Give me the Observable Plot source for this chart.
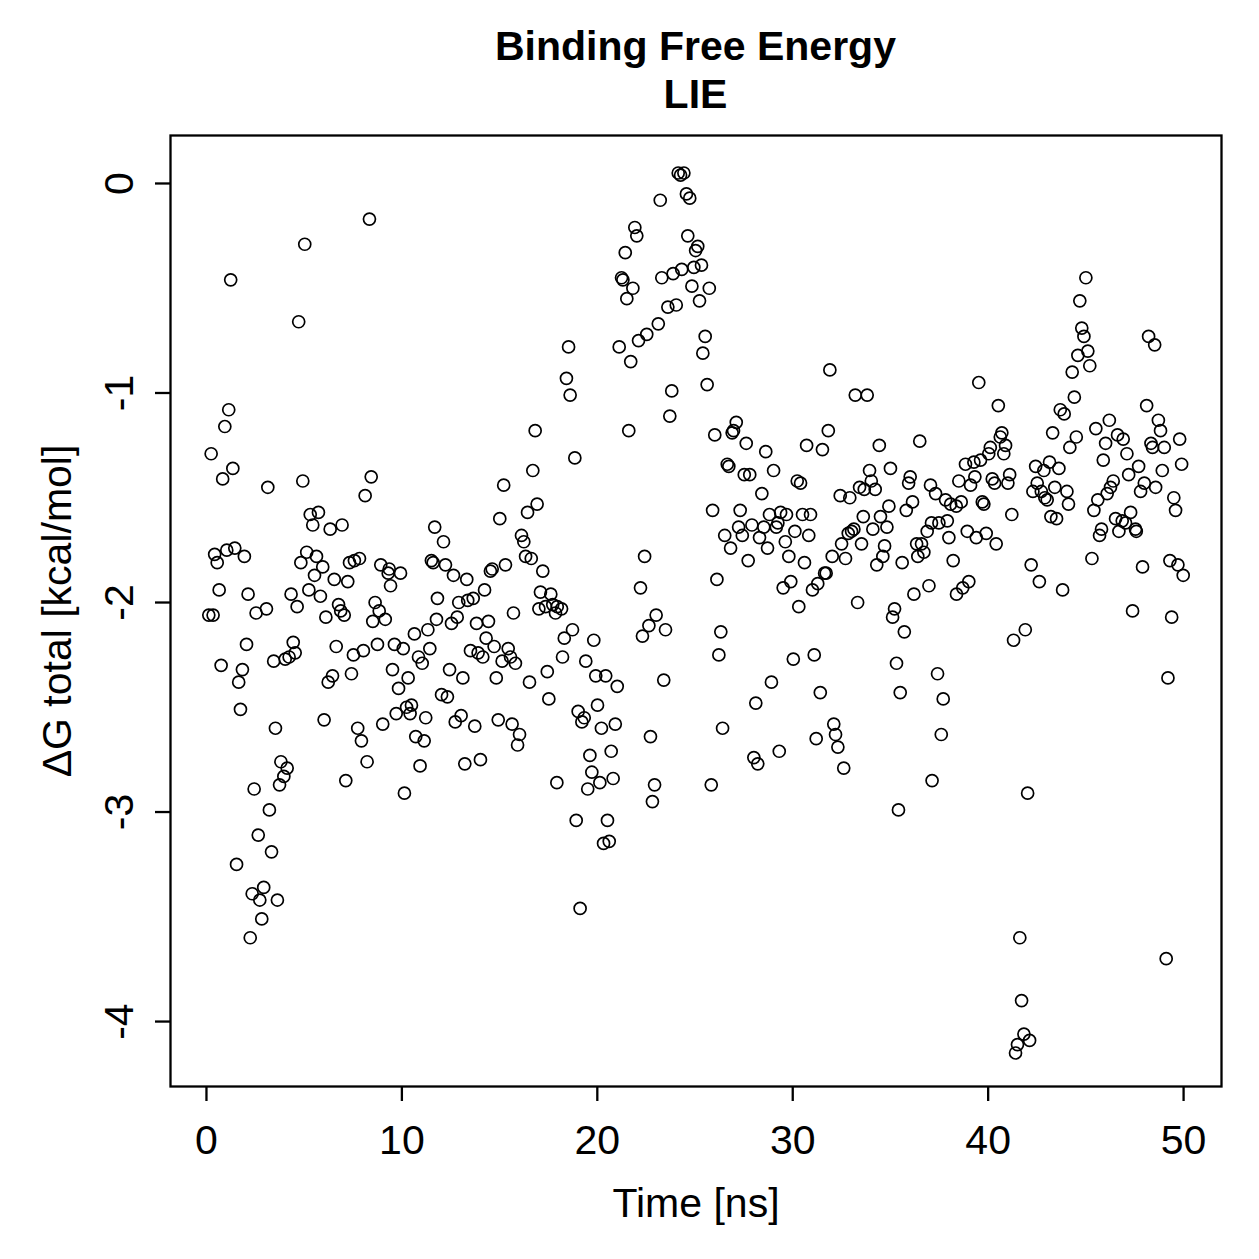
<!DOCTYPE html>
<html>
<head>
<meta charset="utf-8">
<script src="https://cdn.jsdelivr.net/npm/d3@7"></script>
<script src="https://cdn.jsdelivr.net/npm/@observablehq/plot@0.6"></script>
<style>
  html, body { margin: 0; padding: 0; background: #fff; }
  #wrap { width: 1259px; }
  #title {
    padding-top: 22px; height: 98px;
    font-family: "Liberation Sans", Arial, Helvetica, sans-serif;
    font-weight: bold; font-size: 41px; line-height: 48px; color: #000;
  }
  #title div { margin-left: 170px; width: 1051px; text-align: center; }
  #chart svg { display: block; }
</style>
</head>
<body>
<div id="wrap">
  <div id="title"><div>Binding Free Energy</div><div>LIE</div></div>
  <div id="chart"></div>
</div>
<script>
// Simulation time of each frame, in ns
const time = [
  0.12,0.24,0.34,0.42,0.55,0.65,0.75,0.83,0.94,1.04,
  1.14,1.24,1.35,1.45,1.54,1.65,1.74,1.84,1.94,2.05,
  2.13,2.24,2.34,2.44,2.54,2.65,2.73,2.83,2.93,3.07,
  3.14,3.22,3.33,3.44,3.53,3.63,3.74,3.81,3.96,4.03,
  4.13,4.23,4.33,4.44,4.54,4.64,4.72,4.83,4.93,5.03,
  5.13,5.24,5.31,5.44,5.53,5.63,5.73,5.83,5.95,6.02,
  6.11,6.23,6.33,6.45,6.54,6.64,6.76,6.87,6.94,7.05,
  7.13,7.23,7.32,7.42,7.52,7.57,7.74,7.83,7.93,8.03,
  8.12,8.22,8.34,8.43,8.51,8.63,8.75,8.84,8.92,9.02,
  9.15,9.30,9.35,9.42,9.52,9.62,9.71,9.83,9.93,10.07,
  10.13,10.24,10.32,10.42,10.49,10.64,10.71,10.85,10.93,11.04,
  11.14,11.22,11.33,11.43,11.51,11.60,11.68,11.82,11.77,12.03,
  12.13,12.23,12.33,12.44,12.54,12.64,12.73,12.83,12.91,13.03,
  13.12,13.22,13.32,13.37,13.51,13.65,13.73,13.82,13.90,14.02,
  14.14,14.23,14.31,14.43,14.53,14.62,14.72,14.83,14.93,15.01,
  15.13,15.21,15.30,15.44,15.56,15.64,15.71,15.81,15.92,16.02,
  16.12,16.24,16.33,16.43,16.53,16.62,16.70,16.82,16.92,17.01,
  17.09,17.21,17.35,17.44,17.52,17.62,17.72,17.86,17.93,17.95,
  18.17,18.22,18.31,18.42,18.53,18.61,18.73,18.85,18.92,19.02,
  19.12,19.21,19.33,19.41,19.51,19.62,19.72,19.82,19.92,20.01,
  20.13,20.21,20.32,20.43,20.52,20.61,20.71,20.81,20.92,21.02,
  21.12,21.24,21.31,21.43,21.51,21.61,21.71,21.82,21.92,22.02,
  22.11,22.21,22.31,22.42,22.53,22.64,22.72,22.82,22.93,23.01,
  23.12,23.22,23.30,23.40,23.49,23.61,23.71,23.81,23.88,24.04,
  24.14,24.26,24.32,24.43,24.56,24.63,24.73,24.84,24.94,25.03,
  25.14,25.23,25.33,25.40,25.52,25.62,25.73,25.83,25.90,26.01,
  26.12,26.22,26.32,26.41,26.52,26.65,26.73,26.82,26.90,26.97,
  27.11,27.23,27.31,27.42,27.52,27.62,27.72,27.80,27.91,28.01,
  28.11,28.21,28.30,28.42,28.52,28.62,28.71,28.81,28.91,29.02,
  29.16,29.24,29.31,29.38,29.51,29.62,29.68,29.80,29.90,30.03,
  30.11,30.23,30.31,30.40,30.50,30.60,30.71,30.82,30.91,31.01,
  31.10,31.20,31.28,31.41,31.52,31.63,31.71,31.82,31.90,32.02,
  32.10,32.19,32.31,32.43,32.50,32.61,32.70,32.84,32.92,33.01,
  33.13,33.20,33.32,33.42,33.52,33.61,33.66,33.81,33.93,34.02,
  34.10,34.22,34.30,34.43,34.49,34.61,34.70,34.82,34.92,35.00,
  35.11,35.21,35.31,35.41,35.50,35.60,35.71,35.81,35.93,36.01,
  36.13,36.20,36.34,36.40,36.50,36.59,36.71,36.88,36.97,37.05,
  37.13,37.10,37.31,37.41,37.48,37.60,37.70,37.82,37.91,37.99,
  38.08,38.21,38.37,38.38,38.50,38.62,38.70,38.84,38.93,39.01,
  39.10,39.27,39.32,39.39,39.52,39.61,39.70,39.78,39.90,40.03,
  40.11,40.21,40.33,40.41,40.52,40.62,40.70,40.80,40.89,41.01,
  41.10,41.21,41.30,41.40,41.50,41.62,41.71,41.83,41.90,42.02,
  42.12,42.20,42.29,42.43,42.51,42.62,42.72,42.85,42.90,43.02,
  43.14,43.21,43.30,43.41,43.50,43.62,43.69,43.81,43.89,44.03,
  44.11,44.18,44.30,44.41,44.51,44.59,44.69,44.79,44.90,45.00,
  45.10,45.20,45.31,45.41,45.51,45.61,45.70,45.80,45.89,46.01,
  46.09,46.20,46.26,46.40,46.52,46.62,46.69,46.86,46.91,47.03,
  47.10,47.19,47.29,47.39,47.54,47.58,47.70,47.80,47.90,47.99,
  48.11,48.21,48.33,48.41,48.52,48.57,48.71,48.82,48.91,49.01,
  49.11,49.20,49.30,49.39,49.50,49.59,49.71,49.80,49.90,49.98
];

// Total binding free energy (LIE) per frame, kcal/mol
const dG = [
  -2.06,-1.29,-2.06,-1.77,-1.81,-1.94,-2.30,-1.41,-1.16,-1.75,
  -1.08,-0.46,-1.36,-1.74,-3.25,-2.38,-2.51,-2.32,-1.78,-2.20,
  -1.96,-3.60,-3.39,-2.89,-2.05,-3.11,-3.42,-3.51,-3.36,-2.03,
  -1.45,-2.99,-3.19,-2.28,-2.60,-3.42,-2.87,-2.76,-2.83,-2.27,
  -2.79,-2.26,-1.96,-2.19,-2.24,-2.02,-0.66,-1.81,-1.42,-0.29,
  -1.76,-1.94,-1.58,-1.63,-1.87,-1.78,-1.57,-1.97,-1.83,-2.56,
  -2.07,-2.38,-1.65,-2.35,-1.89,-2.21,-2.01,-2.04,-1.63,-2.06,
  -2.85,-1.90,-1.81,-2.34,-2.25,-1.80,-2.60,-1.79,-2.66,-2.23,
  -1.49,-2.76,-0.17,-1.40,-2.09,-2.00,-2.20,-2.04,-1.82,-2.58,
  -2.08,-1.86,-1.84,-1.92,-2.32,-2.20,-2.53,-2.41,-1.86,-2.22,
  -2.91,-2.50,-2.36,-2.53,-2.49,-2.15,-2.64,-2.26,-2.78,-2.29,
  -2.66,-2.55,-2.13,-2.22,-1.80,-1.81,-1.64,-1.98,-2.08,-2.44,
  -1.71,-1.82,-2.45,-2.32,-2.10,-1.87,-2.57,-2.07,-2.00,-2.54,
  -2.36,-2.77,-1.89,-1.99,-2.23,-1.98,-2.59,-2.10,-2.24,-2.75,
  -2.26,-1.94,-2.17,-2.09,-1.85,-1.84,-2.21,-2.36,-2.56,-1.60,
  -2.28,-1.44,-1.82,-2.22,-2.26,-2.58,-2.05,-2.29,-2.68,-2.63,
  -1.68,-1.71,-1.78,-1.57,-2.38,-1.79,-1.37,-1.18,-1.53,-2.03,
  -1.95,-1.85,-2.02,-2.33,-2.46,-1.96,-2.01,-2.05,-2.86,-2.02,
  -2.03,-2.26,-2.17,-0.93,-0.78,-1.01,-2.13,-1.31,-3.04,-2.52,
  -3.46,-2.57,-2.55,-2.28,-2.89,-2.73,-2.81,-2.18,-2.35,-2.49,
  -2.86,-2.60,-3.15,-2.35,-3.04,-3.14,-2.71,-2.84,-2.58,-2.40,
  -0.78,-0.45,-0.46,-0.33,-0.55,-1.18,-0.85,-0.50,-0.21,-0.25,
  -0.75,-1.93,-2.16,-1.78,-0.72,-2.11,-2.64,-2.95,-2.87,-2.06,
  -0.67,-0.08,-0.45,-2.37,-2.13,-0.59,-1.11,-0.99,-0.43,-0.58,
   0.05, 0.04,-0.41, 0.05,-0.05,-0.25,-0.07,-0.49,-0.40,-0.32,
  -0.30,-0.56,-0.39,-0.81,-0.73,-0.96,-0.50,-2.87,-1.56,-1.20,
  -1.89,-2.25,-2.14,-2.60,-1.68,-1.34,-1.35,-1.74,-1.19,-1.18,
  -1.14,-1.64,-1.56,-1.68,-1.39,-1.24,-1.80,-1.39,-1.63,-2.74,
  -2.48,-2.77,-1.69,-1.48,-1.64,-1.28,-1.74,-1.58,-2.38,-1.37,
  -1.64,-1.62,-2.71,-1.57,-1.93,-1.71,-1.58,-1.78,-1.90,-2.27,
  -1.66,-1.42,-2.02,-1.43,-1.58,-1.81,-1.25,-1.68,-1.58,-1.94,
  -2.25,-2.65,-1.91,-2.43,-1.27,-1.86,-1.86,-1.18,-0.89,-1.78,
  -2.58,-2.63,-2.69,-1.49,-1.72,-2.79,-1.79,-1.67,-1.50,-1.66,
  -1.65,-1.01,-2.00,-1.45,-1.72,-1.59,-1.46,-1.01,-1.37,-1.42,
  -1.65,-1.46,-1.82,-1.25,-1.59,-1.78,-1.73,-1.64,-1.54,-1.36,
  -2.07,-2.03,-2.29,-2.99,-2.43,-1.81,-2.14,-1.56,-1.43,-1.40,
  -1.52,-1.96,-1.72,-1.78,-1.23,-1.72,-1.76,-1.66,-1.92,-1.44,
  -2.85,-1.62,-1.48,-2.34,-1.62,-2.63,-2.46,-1.51,-1.61,-1.69,
  -1.53,-1.80,-1.54,-1.96,-1.42,-1.52,-1.93,-1.34,-1.66,-1.90,
  -1.44,-1.33,-1.40,-1.69,-0.95,-1.32,-1.52,-1.53,-1.67,-1.29,
  -1.26,-1.41,-1.43,-1.72,-1.06,-1.21,-1.19,-1.29,-1.25,-1.43,
  -1.39,-1.58,-2.18,-4.15,-4.11,-3.60,-3.90,-4.06,-2.13,-2.91,
  -4.09,-1.82,-1.47,-1.35,-1.43,-1.90,-1.47,-1.37,-1.50,-1.51,
  -1.33,-1.59,-1.19,-1.45,-1.60,-1.36,-1.08,-1.94,-1.10,-1.47,
  -1.53,-1.26,-0.90,-1.02,-1.21,-0.82,-0.56,-0.69,-0.73,-0.45,
  -0.80,-0.87,-1.79,-1.56,-1.17,-1.51,-1.68,-1.65,-1.32,-1.24,
  -1.48,-1.13,-1.45,-1.42,-1.60,-1.20,-1.66,-1.61,-1.22,-1.62,
  -1.29,-1.39,-1.57,-2.04,-1.65,-1.66,-1.35,-1.47,-1.83,-1.43,
  -1.06,-0.73,-1.24,-1.26,-0.77,-1.45,-1.13,-1.18,-1.37,-1.26,
  -3.70,-2.36,-1.80,-2.07,-1.50,-1.56,-1.82,-1.22,-1.34,-1.87
];

const xTicks = [0, 10, 20, 30, 40, 50];
const yTicks = [0, -1, -2, -3, -4];
const xLabel = "Time [ns]";
const yLabel = "ΔG total [kcal/mol]";

const frames = time.map((t, i) => ({time: t, dG: dG[i]}));
const font = "'Liberation Sans', Arial, Helvetica, sans-serif";

const chart = Plot.plot({
  width: 1259,
  height: 1139,
  marginTop: 15,
  marginBottom: 173,
  marginLeft: 170,
  marginRight: 38,
  style: {fontFamily: font, fontSize: "41px", color: "#000", background: "#fff"},
  x: {domain: [-1.84, 51.94], label: null},
  y: {domain: [-4.31, 0.229], label: null},
  marks: [
    Plot.dot(frames, {x: "time", y: "dG", r: 6, stroke: "#000", strokeWidth: 1.7, fill: "none"}),
    Plot.frame({stroke: "#000", strokeWidth: 2.3}),
    Plot.axisX({ticks: xTicks, tickSize: 15, tickPadding: 23, tickFormat: d => String(d),
                fontSize: 41, strokeWidth: 2.3, label: null}),
    Plot.axisY({ticks: yTicks, tickSize: 15, tickPadding: 23, tickRotate: -90, tickFormat: d => String(d),
                fontSize: 41, strokeWidth: 2.3, label: null}),
    Plot.text([xLabel], {text: d => d, frameAnchor: "bottom", lineAnchor: "bottom", dy: 130, fontSize: 41}),
    Plot.text([yLabel], {text: d => d, frameAnchor: "left", rotate: -90, textAnchor: "middle",
                         lineAnchor: "bottom", dx: -100, fontSize: 41})
  ]
});

document.getElementById("chart").appendChild(chart);
</script>
</body>
</html>
